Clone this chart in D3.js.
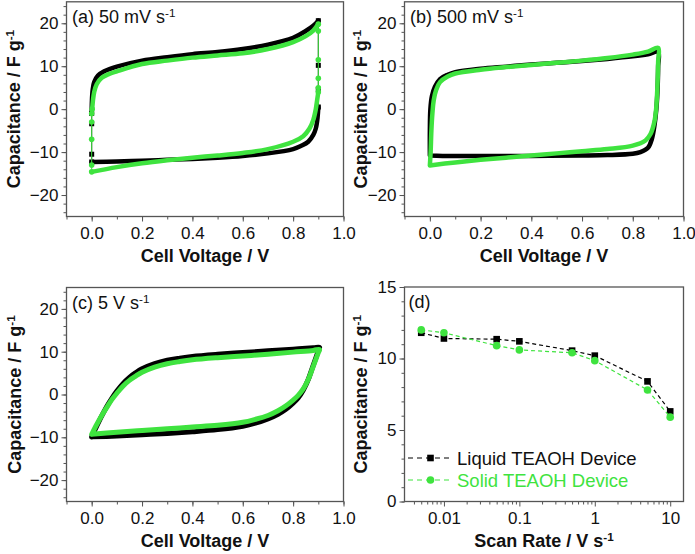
<!DOCTYPE html>
<html>
<head>
<meta charset="utf-8">
<script src="https://cdn.jsdelivr.net/npm/d3@7"></script>
<style>
body { margin: 0; background: #fff; }
text { font-family: "Liberation Sans", Arial, sans-serif; }
</style>
</head>
<body>
<svg id="fig" width="695" height="554"></svg>
<script>
// ---- data ----
// CV loops: [voltage V, capacitance F/g]
var cvA_liquid = [[0.0, -1], [0.001, 2], [0.004, 4.5], [0.01, 6.3], [0.025, 7.8], [0.05, 8.8], [0.1, 9.9], [0.2, 11.3], [0.3, 12.1], [0.4, 12.8], [0.5, 13.3], [0.6, 14.0], [0.7, 15.0], [0.8, 16.6], [0.85, 18.2], [0.88, 19.4], [0.9, 20.6]];
var cvA_liquidLow = [[0.9, 0.5], [0.897, -2], [0.89, -4.5], [0.88, -6], [0.86, -7.6], [0.83, -8.6], [0.8, -9.3], [0.7, -10.3], [0.6, -10.9], [0.5, -11.3], [0.4, -11.6], [0.3, -11.8], [0.2, -12.0], [0.1, -12.2], [0.0, -12.3]];
// sparse points while the potential switches
var cvA_liquidSwitchR = [[0.9, 20.6], [0.9, 10.2], [0.9, 4.6], [0.9, 0.5]];
var cvA_liquidSwitchL = [[0.0, -12.3], [0.0, -10.5], [0.0, -3.4], [0.0, -1]];
var cvA_solid = [[0.002, 0], [0.005, 2], [0.01, 4], [0.02, 5.8], [0.04, 7.3], [0.07, 8.2], [0.1, 8.8], [0.2, 10.5], [0.3, 11.3], [0.4, 12.0], [0.5, 12.5], [0.6, 13.0], [0.7, 14.0], [0.8, 15.6], [0.85, 17.0], [0.88, 18.3], [0.9, 19.8]];
var cvA_solidLow = [[0.9, 4], [0.895, 2], [0.89, 0], [0.88, -2.5], [0.865, -4.5], [0.84, -6.3], [0.8, -7.6], [0.7, -9.3], [0.6, -10.2], [0.5, -10.8], [0.4, -11.3], [0.3, -11.9], [0.2, -12.6], [0.1, -13.5], [0.0, -14.6]];
var cvA_solidSwitchR = [[0.9, 19.8], [0.9, 18.2], [0.9, 11.5], [0.9, 7.2], [0.9, 5], [0.9, 4]];
var cvA_solidSwitchL = [[0.0, -14.6], [0.0, -13], [0.0, -7], [0.0, -3], [0.0, -1], [0.002, 0]];

var cvB_liquid = [[0.0, -10.8], [0.0, -5], [0.002, 0], [0.008, 3], [0.02, 5.2], [0.04, 7], [0.07, 8], [0.1, 8.6], [0.2, 9.4], [0.3, 9.9], [0.4, 10.4], [0.5, 10.8], [0.6, 11.2], [0.7, 11.7], [0.8, 12.3], [0.86, 12.8], [0.9, 13.3], [0.9, 10], [0.898, 5], [0.893, 0], [0.885, -4], [0.875, -7], [0.86, -9], [0.83, -10], [0.8, -10.4], [0.7, -10.7], [0.6, -10.8], [0.4, -10.9], [0.2, -10.9], [0.05, -10.9], [0.0, -10.8]];
var cvB_solid = [[0.0, -13.1], [0.003, -10], [0.006, -5], [0.01, -1], [0.015, 2], [0.025, 4.5], [0.04, 6.3], [0.07, 7.6], [0.1, 8.3], [0.2, 9.2], [0.3, 9.8], [0.4, 10.3], [0.5, 10.8], [0.6, 11.3], [0.7, 11.9], [0.8, 12.7], [0.86, 13.4], [0.9, 14.3], [0.9, 11], [0.897, 5], [0.892, 0], [0.885, -3], [0.87, -5.8], [0.85, -7.3], [0.8, -8.5], [0.7, -9.3], [0.6, -9.8], [0.5, -10.3], [0.4, -10.8], [0.3, -11.3], [0.2, -11.8], [0.1, -12.4], [0.0, -13.1]];

var cvC_liquid = [[0, -9.9], [0.02, -7.4], [0.04, -5.0], [0.06, -2.8], [0.08, -0.9], [0.1, 0.8], [0.125, 2.6], [0.15, 4.0], [0.175, 5.1], [0.2, 6.0], [0.25, 7.2], [0.3, 8.0], [0.35, 8.5], [0.4, 8.9], [0.5, 9.4], [0.6, 9.8], [0.7, 10.2], [0.8, 10.6], [0.88, 10.9], [0.905, 11.0],
    [0.9, 10.2], [0.89, 8.5], [0.875, 6], [0.86, 3.5], [0.84, 1], [0.82, -0.8], [0.8, -2.0], [0.77, -3.5], [0.74, -4.6], [0.7, -5.7], [0.65, -6.7], [0.6, -7.4], [0.5, -8.2], [0.4, -8.7], [0.3, -9.1], [0.2, -9.4], [0.1, -9.7], [0, -9.9]];
var cvC_solid = [[0, -9.3], [0.02, -7.0], [0.04, -4.9], [0.06, -3.0], [0.08, -1.2], [0.1, 0.3], [0.125, 2.0], [0.15, 3.3], [0.175, 4.3], [0.2, 5.2], [0.25, 6.4], [0.3, 7.2], [0.35, 7.7], [0.4, 8.1], [0.5, 8.6], [0.6, 9.0], [0.7, 9.4], [0.8, 9.9], [0.88, 10.3], [0.905, 10.5],
    [0.9, 9.8], [0.89, 8.2], [0.875, 5.8], [0.86, 3.5], [0.84, 1.3], [0.82, -0.2], [0.8, -1.3], [0.77, -2.7], [0.74, -3.8], [0.7, -4.9], [0.65, -5.8], [0.6, -6.5], [0.5, -7.2], [0.4, -7.6], [0.3, -8.0], [0.2, -8.4], [0.1, -8.8], [0, -9.3]];

// (d) capacitance vs scan rate
var scanRates = [0.005, 0.01, 0.05, 0.1, 0.5, 1, 5, 10];
var capLiquid = [11.8, 11.4, 11.35, 11.2, 10.55, 10.2, 8.4, 6.3];
var capSolid = [12.0, 11.8, 10.9, 10.6, 10.4, 9.85, 7.8, 5.9];

var cvXTicks = [0.0, 0.2, 0.4, 0.6, 0.8, 1.0];
var cvYTicks = [-20, -10, 0, 10, 20];
var rateXTicks = [0.01, 0.1, 1, 10];
var rateYTicks = [0, 5, 10, 15];
var legendNames = ['Liquid TEAOH Device', 'Solid TEAOH Device'];

var BLACK = '#000';
var GREEN = '#3fe33f';
var FRAME = '#555';

var svg = d3.select('#fig');

// text with a "-1" superscript
function supText(g, x, y, main, sup, opt) {
    var t = g.append('text')
        .attr('x', x)
        .attr('y', y)
        .attr('font-size', opt.size)
        .attr('font-weight', opt.bold ? 'bold' : 'normal')
        .attr('fill', opt.fill || '#111')
        .attr('text-anchor', opt.anchor || 'start');
    if (opt.rotate) t.attr('transform', 'rotate(-90,' + x + ',' + y + ')');
    t.append('tspan').text(main);
    if (sup) {
        t.append('tspan').attr('dy', '-0.5em').attr('font-size', '0.65em').text(sup);
    }
    return t;
}

function styleAxis(g) {
    g.select('.domain').remove();
    g.selectAll('.tick line').attr('stroke', FRAME).attr('stroke-width', 1);
    g.selectAll('.tick text').attr('fill', '#111').attr('font-size', 17)
        .attr('font-family', '"Liberation Sans", Arial, sans-serif');
}

function frame(g, box) {
    g.append('rect')
        .attr('x', box.l).attr('y', box.t)
        .attr('width', box.r - box.l).attr('height', box.b - box.t)
        .attr('fill', 'none').attr('stroke', FRAME).attr('stroke-width', 1.3);
}

// one CV panel
function drawCV(box, cfg) {
    var g = svg.append('g');
    var x = d3.scaleLinear().domain([-0.1, 1.0]).range([box.l, box.r]);
    var y = d3.scaleLinear().domain([-25, 25]).range([box.b, box.t]);

    var gx = g.append('g').attr('transform', 'translate(0,' + box.b + ')');
    gx.call(d3.axisBottom(x).tickValues(d3.range(-0.1, 1.001, 0.1)).tickSize(3).tickFormat(''));
    styleAxis(gx);
    var gx2 = g.append('g').attr('transform', 'translate(0,' + box.b + ')');
    gx2.call(d3.axisBottom(x).tickValues(cvXTicks).tickSize(5).tickPadding(5).tickFormat(d3.format('.1f')));
    styleAxis(gx2);

    var gy = g.append('g').attr('transform', 'translate(' + box.l + ',0)');
    gy.call(d3.axisLeft(y).tickValues(d3.range(-24, 25, 2)).tickSize(3).tickFormat(''));
    styleAxis(gy);
    var gy2 = g.append('g').attr('transform', 'translate(' + box.l + ',0)');
    gy2.call(d3.axisLeft(y).tickValues(cvYTicks).tickSize(5).tickPadding(3));
    styleAxis(gy2);

    frame(g, box);

    var line = d3.line()
        .x(function (d) { return x(d[0]); })
        .y(function (d) { return y(d[1]); })
        .curve(d3.curveCatmullRom.alpha(0.5));
    var straight = d3.line()
        .x(function (d) { return x(d[0]); })
        .y(function (d) { return y(d[1]); });

    cfg.series.forEach(function (s) {
        (s.thin || []).forEach(function (seg) {
            g.append('path').attr('d', straight(seg))
                .attr('fill', 'none').attr('stroke', s.color).attr('stroke-width', 1);
            seg.forEach(function (d) {
                if (s.square) {
                    g.append('rect').attr('x', x(d[0]) - 2.5).attr('y', y(d[1]) - 2.5)
                        .attr('width', 5).attr('height', 5).attr('fill', s.color);
                } else {
                    g.append('circle').attr('cx', x(d[0])).attr('cy', y(d[1]))
                        .attr('r', 2.8).attr('fill', s.color);
                }
            });
        });
        s.paths.forEach(function (p) {
            g.append('path')
                .attr('d', line(p))
                .attr('fill', 'none')
                .attr('stroke', s.color)
                .attr('stroke-width', cfg.width)
                .attr('stroke-linejoin', 'round')
                .attr('stroke-linecap', 'round');
        });
    });

    supText(g, box.l + 5.5, box.t + 21, cfg.title, '-1', {size: 18});
    supText(g, (box.l + box.r) / 2, box.b + 45, 'Cell Voltage / V', null, {size: 18, bold: true, anchor: 'middle'});
    supText(g, cfg.ylabX, (box.t + box.b) / 2, 'Capacitance / F g', '-1', {size: 18, bold: true, anchor: 'middle', rotate: true});
}

drawCV({l: 66.5, r: 343.5, t: 1.8, b: 216.5}, {
    title: '(a) 50 mV s', ylabX: 20, width: 4.5,
    series: [
        {color: BLACK, square: true, thin: [cvA_liquidSwitchR, cvA_liquidSwitchL], paths: [cvA_liquid, cvA_liquidLow]},
        {color: GREEN, thin: [cvA_solidSwitchR, cvA_solidSwitchL], paths: [cvA_solid, cvA_solidLow]}
    ]
});
drawCV({l: 404.5, r: 683.5, t: 1.8, b: 216.5}, {
    title: '(b) 500 mV s', ylabX: 367, width: 4.5,
    series: [
        {color: BLACK, paths: [cvB_liquid]},
        {color: GREEN, paths: [cvB_solid]}
    ]
});
drawCV({l: 66.5, r: 343.5, t: 287.5, b: 501.5}, {
    title: '(c) 5 V s', ylabX: 21, width: 5,
    series: [
        {color: BLACK, paths: [cvC_liquid]},
        {color: GREEN, paths: [cvC_solid]}
    ]
});

// (d) capacitance against scan rate
(function () {
    var box = {l: 404.5, r: 683.5, t: 287, b: 501.5};
    var g = svg.append('g');
    var x = d3.scaleLog().domain([0.003, 15]).range([box.l, box.r]);
    var y = d3.scaleLinear().domain([0, 15]).range([box.b, box.t]);

    var minor = [];
    [0.001, 0.01, 0.1, 1, 10].forEach(function (dec) {
        for (var k = 2; k <= 9; k++) {
            var v = dec * k;
            if (v > 0.003 && v < 15) minor.push(v);
        }
    });
    var gx = g.append('g').attr('transform', 'translate(0,' + box.b + ')');
    gx.call(d3.axisBottom(x).tickValues(minor).tickSize(3).tickFormat(''));
    styleAxis(gx);
    var gx2 = g.append('g').attr('transform', 'translate(0,' + box.b + ')');
    gx2.call(d3.axisBottom(x).tickValues(rateXTicks).tickSize(5).tickPadding(5)
        .tickFormat(function (d) { return String(d); }));
    styleAxis(gx2);

    var gy = g.append('g').attr('transform', 'translate(' + box.l + ',0)');
    gy.call(d3.axisLeft(y).tickValues(d3.range(0, 15.01, 1)).tickSize(3).tickFormat(''));
    styleAxis(gy);
    var gy2 = g.append('g').attr('transform', 'translate(' + box.l + ',0)');
    gy2.call(d3.axisLeft(y).tickValues(rateYTicks).tickSize(5).tickPadding(3));
    styleAxis(gy2);

    frame(g, box);

    var sets = [
        {vals: capLiquid, color: BLACK, square: true},
        {vals: capSolid, color: GREEN, square: false}
    ];
    var line = d3.line()
        .x(function (d) { return x(d[0]); })
        .y(function (d) { return y(d[1]); });

    function marker(sel, px, py, s) {
        if (s.square) {
            sel.append('rect').attr('x', px - 3.3).attr('y', py - 3.3)
                .attr('width', 6.6).attr('height', 6.6).attr('fill', s.color);
        } else {
            sel.append('circle').attr('cx', px).attr('cy', py).attr('r', 3.8).attr('fill', s.color);
        }
    }

    sets.forEach(function (s) {
        var pts = scanRates.map(function (r, i) { return [r, s.vals[i]]; });
        g.append('path')
            .attr('d', line(pts))
            .attr('fill', 'none')
            .attr('stroke', s.color)
            .attr('stroke-width', 1.2)
            .attr('stroke-dasharray', '4,3');
        pts.forEach(function (p) { marker(g, x(p[0]), y(p[1]), s); });
    });

    // legend
    sets.forEach(function (s, i) {
        var ly = 458 + i * 22;
        g.append('line')
            .attr('x1', 408).attr('x2', 453).attr('y1', ly).attr('y2', ly)
            .attr('stroke', s.color).attr('stroke-width', 1.2).attr('stroke-dasharray', '5,4');
        marker(g, 430.5, ly, s);
        g.append('text')
            .attr('x', 457).attr('y', ly + 6.5)
            .attr('font-size', 18.5)
            .attr('fill', i === 0 ? '#111' : GREEN)
            .text(legendNames[i]);
    });

    supText(g, box.l + 4, box.t + 21, '(d)', null, {size: 18});
    supText(g, (box.l + box.r) / 2, box.b + 45, 'Scan Rate / V s', '-1', {size: 18, bold: true, anchor: 'middle'});
    supText(g, 367, (box.t + box.b) / 2, 'Capacitance / F g', '-1', {size: 18, bold: true, anchor: 'middle', rotate: true});
})();
</script>
</body>
</html>
